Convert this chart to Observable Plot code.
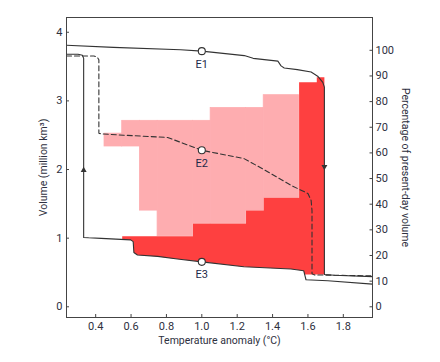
<!DOCTYPE html>
<html><head><meta charset="utf-8">
<script src="https://cdn.jsdelivr.net/npm/d3@7"></script>
<script src="https://cdn.jsdelivr.net/npm/@observablehq/plot@0.6"></script>
<style>body{margin:0;background:#fff} svg{display:block}</style>
</head><body><div id="chart"></div>
<script>
// present-day volume (million km3) = 100 %
const V0 = 3.737;
const xTicks = [0.4, 0.6, 0.8, 1.0, 1.2, 1.4, 1.6, 1.8];
const yTicks = [0, 1, 2, 3, 4];
const pctTicks = [0, 10, 20, 30, 40, 50, 60, 70, 80, 90, 100];

// upper (E1) branch, then collapse at ~1.69 °C
const upperT = [0.235, 0.5, 0.88, 1.0, 1.24, 1.29, 1.43, 1.448, 1.466, 1.54, 1.618, 1.655, 1.684, 1.693, 1.693, 1.75, 1.965];
const upperV = [3.81, 3.78, 3.745, 3.725, 3.66, 3.62, 3.58, 3.51, 3.48, 3.455, 3.42, 3.36, 3.27, 3.2, 0.47, 0.46, 0.44];

// lower (E3) branch, then regrowth at ~0.33 °C
const lowerT = [1.965, 1.712, 1.589, 1.576, 1.504, 1.238, 1.0, 0.862, 0.75, 0.636, 0.616, 0.612, 0.598, 0.431, 0.36, 0.332, 0.332, 0.325, 0.30, 0.235];
const lowerV = [0.33, 0.38, 0.394, 0.526, 0.55, 0.584, 0.655, 0.696, 0.734, 0.755, 0.79, 0.95, 0.975, 0.997, 1.005, 1.01, 3.62, 3.665, 3.68, 3.68];

// E2 (dashed) trajectory
const dashT = [0.235, 0.39, 0.408, 0.418, 0.418, 0.43, 0.558, 0.807, 1.0, 1.238, 1.351, 1.504, 1.6, 1.618, 1.623, 1.623, 1.635, 1.965];
const dashV = [3.655, 3.655, 3.64, 3.6, 2.53, 2.52, 2.5, 2.467, 2.28, 2.16, 2.0, 1.77, 1.65, 1.55, 1.40, 0.48, 0.465, 0.45];

// light-red cells (percentage bounds per temperature column)
const pinkX1 = [0.45, 0.55, 0.65, 0.75, 0.95, 1.05, 1.25, 1.35];
const pinkX2 = [0.55, 0.65, 0.75, 0.95, 1.05, 1.25, 1.35, 1.55];
const pinkLo = [62.5, 62.5, 37.5, 27.5, 32.5, 32.5, 37.5, 42.5];
const pinkHi = [67.5, 72.5, 72.5, 72.5, 72.5, 77.5, 77.5, 82.5];

// red cells: top per column (%), bottom follows the lower branch
const redX1 = [0.55, 0.95, 1.25, 1.35, 1.55, 1.65];
const redX2 = [0.95, 1.25, 1.35, 1.55, 1.65, 1.693];
const redTop = [27.5, 32.5, 37.5, 42.5, 87.5, 89.5];
const redBotT = [1.693, 1.58, 1.576, 1.504, 1.238, 1.0, 0.862, 0.75, 0.636, 0.616, 0.612, 0.598, 0.55];
const redBotV = [0.47, 0.47, 0.526, 0.55, 0.584, 0.655, 0.696, 0.734, 0.755, 0.79, 0.95, 0.975, 0.98];

const eNames = ["E1", "E2", "E3"];
const eT = [1.0, 1.0, 1.0];
const eV = [3.725, 2.28, 0.655];

const arrowT = [0.332, 1.693];
const arrowV = [1.99, 2.04];
const arrowRot = [0, 180];

const pct = p => p * V0 / 100;
const zip = (a, b) => a.map((v, i) => ({t: v, v: b[i]}));

const pinkCells = pinkX1.map((x1, i) => ({x1, x2: pinkX2[i], y1: pct(pinkLo[i]), y2: pct(pinkHi[i])}));
const redPoly = [];
redX1.forEach((x1, i) => { redPoly.push({t: x1, v: pct(redTop[i])}); redPoly.push({t: redX2[i], v: pct(redTop[i])}); });
redBotT.forEach((t, i) => redPoly.push({t, v: redBotV[i]}));

const ink = "#333";
const txt = "#2e3040";
const pink = "#feadb0";
const chart = Plot.plot({
  width: 440, height: 362,
  marginLeft: 66, marginRight: 68, marginTop: 17, marginBottom: 45,
  style: {fontFamily: "Roboto, sans-serif", fontSize: "11px", color: txt},
  x: {domain: [0.235, 1.965]},
  y: {domain: [-0.156, 4.215]},
  marks: [
    Plot.rect(pinkCells, {x1: "x1", x2: "x2", y1: "y1", y2: "y2", fill: pink, stroke: pink, strokeWidth: 0.8}),
    Plot.line(redPoly, {x: "t", y: "v", fill: "#fe4040", stroke: "none"}),
    Plot.line(zip(upperT, upperV), {x: "t", y: "v", stroke: ink, strokeWidth: 1.1}),
    Plot.line(zip(lowerT, lowerV), {x: "t", y: "v", stroke: ink, strokeWidth: 1.1}),
    Plot.line(zip(dashT, dashV), {x: "t", y: "v", stroke: ink, strokeWidth: 1.1, strokeDasharray: "5,3"}),
    Plot.dot(arrowT.map((t, i) => ({t, v: arrowV[i], r: arrowRot[i]})), {x: "t", y: "v", symbol: "triangle", r: 2.2, fill: ink, stroke: "none", rotate: "r"}),
    Plot.dot(eT.map((t, i) => ({t, v: eV[i]})), {x: "t", y: "v", r: 3.5, fill: "white", stroke: ink, strokeWidth: 1.1}),
    Plot.text(eNames.map((n, i) => ({n, t: eT[i], v: eV[i]})), {x: "t", y: "v", text: "n", dy: 13, fill: "#1e2a48", fontSize: 11}),
    Plot.frame({stroke: "#444"}),
    Plot.axisX(xTicks, {anchor: "bottom", tickSize: 3, dy: -3, tickPadding: 5, tickFormat: d3.format(".1f"), label: null, stroke: "#444"}),
    Plot.axisY(yTicks, {anchor: "left", tickSize: 3, dx: 3, tickPadding: 4, tickFormat: d3.format("d"), label: null, stroke: "#444"}),
    Plot.axisY(pctTicks.map(pct), {anchor: "right", tickSize: 3.5, dx: -3.5, tickPadding: 3, label: null, stroke: "#444", tickFormat: d => Math.round(d / V0 * 100)}),
    Plot.text(["Volume (million km³)"], {frameAnchor: "left", rotate: -90, dx: -23, textAnchor: "middle", fontSize: 10.5, fill: txt}),
    Plot.text(["Percentage of present-day volume"], {frameAnchor: "right", rotate: 90, dx: 33, textAnchor: "middle", fontSize: 10.5, fill: txt}),
    Plot.text(["Temperature anomaly (°C)"], {frameAnchor: "bottom", dy: 26, fontSize: 10.5, fill: txt})
  ]
});
document.getElementById("chart").append(chart);
</script>
</body></html>
